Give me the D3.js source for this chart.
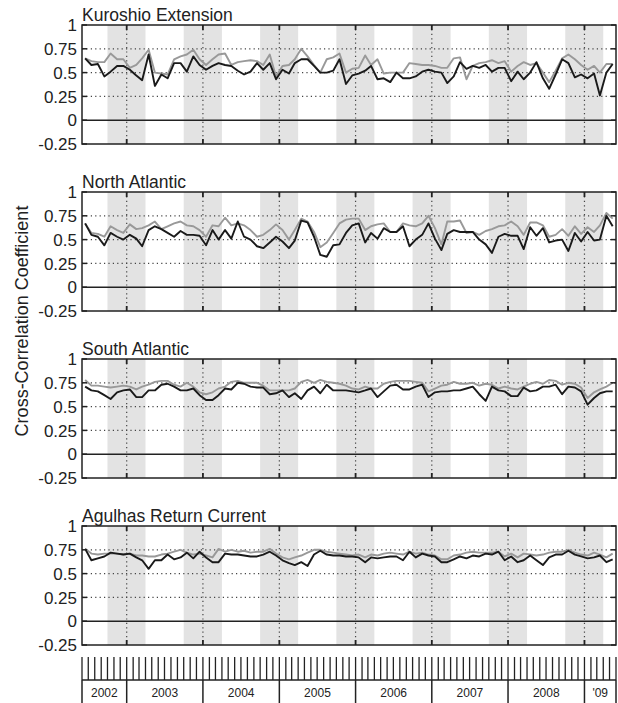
<!doctype html>
<html lang="en">
<head>
    <meta charset="UTF-8">
    <title>Cross-Correlation Coefficient</title>
    <script src="https://d3js.org/d3.v7.min.js"></script>
    <style>
        body { margin: 0; background: #fff; }
        svg { display: block; font-family: "Liberation Sans", Arial, sans-serif; }
    </style>
</head>
<body>
    <svg id="chart" width="618" height="703"></svg>

    <script>
        // monthly values, Jun 2002 .. May 2009
        const regionNames = ["Kuroshio Extension", "North Atlantic", "South Atlantic", "Agulhas Return Current"];

        const kuroBlack = [0.65,0.58,0.59,0.46,0.51,0.57,0.57,0.53,0.47,0.42,0.69,0.36,0.48,0.44,0.60,0.60,0.51,0.67,0.58,0.53,0.57,0.60,0.58,0.57,0.52,0.48,0.51,0.60,0.53,0.60,0.43,0.53,0.49,0.60,0.64,0.64,0.57,0.50,0.50,0.52,0.64,0.38,0.47,0.49,0.52,0.57,0.43,0.44,0.40,0.50,0.44,0.44,0.46,0.51,0.53,0.51,0.50,0.39,0.46,0.61,0.54,0.57,0.55,0.58,0.51,0.55,0.55,0.41,0.51,0.43,0.50,0.61,0.44,0.33,0.48,0.64,0.60,0.45,0.48,0.44,0.49,0.26,0.50,0.59];
        const kuroGray = [0.65,0.62,0.61,0.61,0.70,0.64,0.64,0.55,0.58,0.65,0.74,0.50,0.49,0.48,0.64,0.67,0.69,0.74,0.64,0.58,0.64,0.69,0.70,0.58,0.61,0.62,0.63,0.62,0.58,0.69,0.46,0.57,0.58,0.64,0.75,0.67,0.58,0.50,0.64,0.66,0.70,0.50,0.54,0.55,0.68,0.58,0.64,0.49,0.50,0.50,0.50,0.60,0.59,0.58,0.58,0.57,0.55,0.55,0.65,0.66,0.43,0.57,0.60,0.61,0.63,0.60,0.62,0.51,0.57,0.61,0.58,0.60,0.50,0.40,0.52,0.65,0.69,0.64,0.58,0.53,0.57,0.50,0.59,0.59];

        const natlBlack = [0.67,0.55,0.53,0.44,0.57,0.53,0.50,0.55,0.51,0.43,0.60,0.64,0.61,0.57,0.53,0.59,0.55,0.55,0.54,0.44,0.60,0.50,0.60,0.51,0.69,0.53,0.50,0.43,0.41,0.47,0.53,0.48,0.41,0.49,0.70,0.68,0.53,0.34,0.32,0.44,0.45,0.57,0.65,0.67,0.47,0.57,0.51,0.62,0.58,0.58,0.64,0.43,0.50,0.55,0.67,0.51,0.39,0.56,0.60,0.58,0.58,0.58,0.50,0.45,0.36,0.53,0.56,0.54,0.54,0.40,0.63,0.54,0.62,0.47,0.49,0.50,0.38,0.57,0.48,0.58,0.49,0.50,0.75,0.64];
        const natlGray = [0.67,0.57,0.56,0.53,0.64,0.60,0.57,0.66,0.61,0.62,0.65,0.69,0.61,0.64,0.67,0.69,0.65,0.64,0.60,0.53,0.65,0.64,0.73,0.65,0.67,0.65,0.60,0.53,0.55,0.60,0.66,0.60,0.50,0.60,0.72,0.69,0.58,0.42,0.47,0.57,0.67,0.71,0.72,0.72,0.60,0.64,0.66,0.67,0.58,0.58,0.67,0.65,0.64,0.67,0.75,0.62,0.45,0.69,0.69,0.70,0.57,0.58,0.55,0.59,0.61,0.64,0.65,0.69,0.64,0.55,0.68,0.68,0.65,0.53,0.55,0.61,0.54,0.64,0.56,0.63,0.58,0.65,0.78,0.72];

        const satlBlack = [0.71,0.67,0.66,0.62,0.58,0.65,0.67,0.68,0.60,0.60,0.67,0.67,0.73,0.74,0.71,0.67,0.67,0.69,0.62,0.57,0.57,0.62,0.69,0.68,0.75,0.74,0.71,0.70,0.70,0.63,0.64,0.67,0.60,0.64,0.58,0.67,0.71,0.64,0.73,0.67,0.67,0.67,0.66,0.65,0.67,0.69,0.60,0.66,0.72,0.73,0.68,0.68,0.71,0.73,0.60,0.65,0.66,0.66,0.67,0.67,0.69,0.71,0.63,0.56,0.71,0.67,0.66,0.61,0.61,0.70,0.66,0.67,0.71,0.71,0.73,0.63,0.71,0.70,0.66,0.52,0.59,0.64,0.66,0.66];
        const satlGray = [0.78,0.72,0.72,0.71,0.70,0.71,0.72,0.71,0.68,0.71,0.73,0.76,0.77,0.77,0.73,0.71,0.75,0.71,0.65,0.63,0.65,0.69,0.71,0.76,0.77,0.75,0.75,0.75,0.72,0.67,0.67,0.67,0.67,0.69,0.76,0.78,0.75,0.78,0.76,0.75,0.74,0.72,0.69,0.68,0.71,0.69,0.69,0.74,0.76,0.77,0.77,0.77,0.76,0.75,0.66,0.69,0.72,0.73,0.76,0.74,0.74,0.75,0.72,0.74,0.73,0.69,0.71,0.69,0.68,0.71,0.74,0.76,0.74,0.78,0.77,0.73,0.75,0.74,0.70,0.59,0.65,0.68,0.71,0.75];

        const agulBlack = [0.76,0.64,0.66,0.68,0.72,0.71,0.70,0.71,0.67,0.64,0.55,0.64,0.64,0.70,0.65,0.67,0.72,0.66,0.73,0.67,0.62,0.62,0.71,0.70,0.70,0.69,0.68,0.68,0.70,0.73,0.69,0.64,0.61,0.59,0.62,0.58,0.70,0.74,0.70,0.69,0.69,0.68,0.68,0.67,0.62,0.67,0.66,0.67,0.68,0.68,0.64,0.73,0.67,0.71,0.69,0.68,0.62,0.62,0.65,0.68,0.66,0.69,0.68,0.71,0.70,0.73,0.64,0.68,0.62,0.64,0.69,0.64,0.59,0.67,0.70,0.70,0.74,0.70,0.68,0.66,0.67,0.69,0.62,0.65];
        const agulGray = [0.76,0.71,0.70,0.71,0.71,0.71,0.70,0.71,0.69,0.69,0.68,0.68,0.70,0.71,0.73,0.75,0.72,0.70,0.71,0.69,0.67,0.76,0.73,0.75,0.73,0.74,0.72,0.73,0.73,0.76,0.71,0.67,0.65,0.67,0.69,0.72,0.75,0.75,0.73,0.72,0.71,0.70,0.69,0.70,0.67,0.70,0.69,0.71,0.72,0.71,0.70,0.73,0.71,0.72,0.70,0.69,0.65,0.65,0.69,0.70,0.72,0.73,0.72,0.72,0.72,0.73,0.68,0.71,0.67,0.71,0.70,0.69,0.70,0.72,0.73,0.73,0.75,0.72,0.70,0.69,0.72,0.70,0.67,0.71];

        const yTicks = [-0.25, 0, 0.25, 0.5, 0.75, 1];
        const yTickLabels = ["-0.25", "0", "0.25", "0.5", "0.75", "1"];
        const yearLabels = ["2002", "2003", "2004", "2005", "2006", "2007", "2008", "'09"];

        const panels = [
            { name: regionNames[0], black: kuroBlack, gray: kuroGray },
            { name: regionNames[1], black: natlBlack, gray: natlGray },
            { name: regionNames[2], black: satlBlack, gray: satlGray },
            { name: regionNames[3], black: agulBlack, gray: agulGray }
        ];

        const svg = d3.select("#chart");
        const left = 82, right = 616;
        const panelTops = [25, 192, 359, 526];
        const panelH = 119;
        const ink = "#222";

        const start = new Date(2002, 5, 1), end = new Date(2009, 5, 1);
        const x = d3.scaleTime().domain([start, end]).range([left, right]);
        const months = d3.timeMonth.range(start, end);
        const midMonth = months.map(m => new Date(m.getFullYear(), m.getMonth(), 16));
        const yearStarts = d3.timeYear.range(new Date(2003, 0, 1), end);

        panels.forEach((p, k) => {
            const top = panelTops[k];
            const y = d3.scaleLinear().domain([-0.25, 1]).range([top + panelH, top]);
            const g = svg.append("g");

            // winter shading Oct - Mar
            g.selectAll("rect.band")
                .data(yearStarts)
                .enter()
                .append("rect")
                .attr("x", d => x(d3.timeMonth.offset(d, -3)))
                .attr("width", d => Math.min(x(d3.timeMonth.offset(d, 3)), right) - x(d3.timeMonth.offset(d, -3)))
                .attr("y", top)
                .attr("height", panelH)
                .attr("fill", "#e3e3e3");

            // dotted grid
            g.selectAll("line.hgrid")
                .data([0.25, 0.5, 0.75])
                .enter()
                .append("line")
                .attr("x1", left).attr("x2", right)
                .attr("y1", d => y(d)).attr("y2", d => y(d))
                .attr("stroke", "#444").attr("stroke-width", 1.2)
                .attr("stroke-dasharray", "1.2,3.2");

            g.selectAll("line.vgrid")
                .data(yearStarts)
                .enter()
                .append("line")
                .attr("x1", d => x(d)).attr("x2", d => x(d))
                .attr("y1", top).attr("y2", top + panelH)
                .attr("stroke", "#444").attr("stroke-width", 1.2)
                .attr("stroke-dasharray", "1.2,3.2");

            // zero line
            g.append("line")
                .attr("x1", left).attr("x2", right)
                .attr("y1", y(0)).attr("y2", y(0))
                .attr("stroke", ink).attr("stroke-width", 1.5);

            const line = d3.line()
                .x((d, i) => x(midMonth[i]))
                .y(d => y(d));

            g.append("path")
                .datum(p.gray)
                .attr("d", line)
                .attr("fill", "none")
                .attr("stroke", "#999")
                .attr("stroke-width", 1.9)
                .attr("stroke-linejoin", "round");

            g.append("path")
                .datum(p.black)
                .attr("d", line)
                .attr("fill", "none")
                .attr("stroke", "#1a1a1a")
                .attr("stroke-width", 1.9)
                .attr("stroke-linejoin", "round");

            // frame
            g.append("rect")
                .attr("x", left).attr("y", top)
                .attr("width", right - left).attr("height", panelH)
                .attr("fill", "none").attr("stroke", ink).attr("stroke-width", 1.5);

            // inward ticks
            yTicks.forEach(t => {
                g.append("line").attr("x1", left).attr("x2", left + 5)
                    .attr("y1", y(t)).attr("y2", y(t)).attr("stroke", ink).attr("stroke-width", 1.5);
                g.append("line").attr("x1", right - 5).attr("x2", right)
                    .attr("y1", y(t)).attr("y2", y(t)).attr("stroke", ink).attr("stroke-width", 1.5);
            });
            yearStarts.forEach(d => {
                g.append("line").attr("x1", x(d)).attr("x2", x(d))
                    .attr("y1", top).attr("y2", top + 5).attr("stroke", ink).attr("stroke-width", 1.8);
                g.append("line").attr("x1", x(d)).attr("x2", x(d))
                    .attr("y1", top + panelH - 5).attr("y2", top + panelH).attr("stroke", ink).attr("stroke-width", 1.8);
            });

            // tick labels
            g.selectAll("text.ytick")
                .data(yTicks)
                .enter()
                .append("text")
                .attr("x", left - 5)
                .attr("y", d => y(d))
                .attr("dy", "0.36em")
                .attr("text-anchor", "end")
                .attr("font-size", 17)
                .attr("fill", ink)
                .text((d, i) => yTickLabels[i]);

            g.append("text")
                .attr("x", left)
                .attr("y", top - 4)
                .attr("font-size", 17.5)
                .attr("fill", ink)
                .text(p.name);
        });

        // y-axis title
        svg.append("text")
            .attr("transform", "translate(28,321) rotate(-90)")
            .attr("text-anchor", "middle")
            .attr("font-size", 18)
            .attr("fill", ink)
            .text("Cross-Correlation Coefficient");

        // month tick strip + year row
        const stripTop = 657, stripMid = 680, stripBot = 703;
        svg.append("g")
            .selectAll("line")
            .data(months.concat([end]))
            .enter()
            .append("line")
            .attr("x1", d => x(d)).attr("x2", d => x(d))
            .attr("y1", stripTop).attr("y2", stripMid)
            .attr("stroke", ink).attr("stroke-width", 1.3);

        svg.append("line")
            .attr("x1", left).attr("x2", right)
            .attr("y1", stripMid).attr("y2", stripMid)
            .attr("stroke", ink).attr("stroke-width", 1.5);

        const yearEdges = [start].concat(yearStarts, [end]);
        svg.append("g")
            .selectAll("line")
            .data(yearEdges)
            .enter()
            .append("line")
            .attr("x1", d => x(d)).attr("x2", d => x(d))
            .attr("y1", stripMid).attr("y2", stripBot)
            .attr("stroke", ink).attr("stroke-width", 1.5);

        svg.append("g")
            .selectAll("text")
            .data(yearLabels)
            .enter()
            .append("text")
            .attr("x", (d, i) => (x(yearEdges[i]) + x(yearEdges[i + 1])) / 2)
            .attr("y", 697)
            .attr("text-anchor", "middle")
            .attr("font-size", 12)
            .attr("fill", ink)
            .text(d => d);
    </script>
</body>
</html>
